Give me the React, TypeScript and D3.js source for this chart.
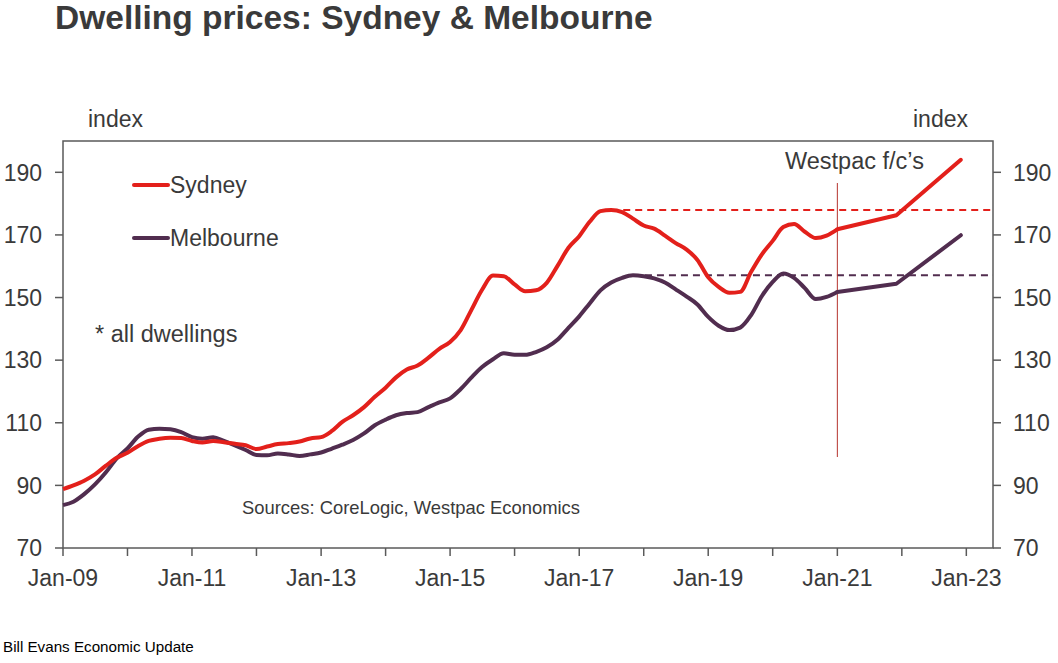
import React from "react";
import * as d3 from "d3";

// ---- data (index values) ----
const dates: string[] = [
  "2009-01","2009-03","2009-05","2009-07","2009-09","2009-11",
  "2010-01","2010-03","2010-05","2010-07","2010-09","2010-11",
  "2011-01","2011-03","2011-05","2011-07","2011-09","2011-11",
  "2012-01","2012-03","2012-05","2012-07","2012-09","2012-11",
  "2013-01","2013-03","2013-05","2013-07","2013-09","2013-11",
  "2014-01","2014-03","2014-05","2014-07","2014-09","2014-11",
  "2015-01","2015-03","2015-05","2015-07","2015-09","2015-11",
  "2016-01","2016-03","2016-05","2016-07","2016-09","2016-11",
  "2017-01","2017-03","2017-05","2017-07","2017-09","2017-11",
  "2018-01","2018-03","2018-05","2018-07","2018-09","2018-11",
  "2019-01","2019-03","2019-05","2019-07","2019-09","2019-11",
  "2020-01","2020-03","2020-05","2020-07","2020-09","2020-11",
  "2021-01",
];

const sydney: number[] = [
  88.8, 90.0, 91.5, 93.5, 96.3, 98.8,
  100.4, 102.5, 104.2, 104.9, 105.2, 105.1,
  104.2, 103.7, 104.2, 103.8, 103.3, 102.8,
  101.6, 102.4, 103.2, 103.5, 104.0, 105.0,
  105.4, 107.3, 110.3, 112.4, 115.0, 118.3,
  121.2, 124.5, 127.0, 128.3, 130.8, 133.6,
  135.8, 139.5, 146.0, 152.5, 157.0, 156.8,
  154.2, 152.0, 152.3, 154.7, 160.2, 165.9,
  169.6, 174.2, 177.6, 178.0, 177.3, 175.2,
  173.0, 172.0, 169.8, 167.4, 165.3, 162.0,
  156.5, 153.4, 151.5, 151.8, 158.2, 163.8,
  168.1, 172.5, 173.5, 171.0, 169.0, 169.8,
  171.8,
];

const melbourne: number[] = [
  83.7, 84.8, 87.2, 90.3, 94.2, 98.6,
  101.8, 105.5, 107.8, 108.1, 107.9, 107.0,
  105.4, 104.9, 105.4, 104.2, 102.8, 101.3,
  99.7, 99.6, 100.2, 99.9, 99.4, 99.9,
  100.5, 101.7, 103.0, 104.5, 106.6, 109.2,
  111.0, 112.4, 113.1, 113.4, 115.0, 116.5,
  117.8, 120.7, 124.4, 127.8, 130.3, 132.2,
  131.7, 131.7, 132.6, 134.1, 136.6, 140.3,
  144.0, 148.1, 152.3, 154.8, 156.3, 157.1,
  156.8, 156.1, 154.8, 152.6, 150.3, 147.8,
  143.8, 141.0, 139.6, 140.4, 144.4, 150.5,
  155.0, 157.7, 156.3, 153.0, 149.5, 150.2,
  151.8,
];

// Westpac forecasts
const forecastDates: string[] = ["2021-01", "2021-12", "2022-12"];
const sydneyForecast: number[] = [171.8, 176.3, 194.0];
const melbourneForecast: number[] = [151.8, 154.4, 169.9];

// previous peaks (dashed reference lines)
const peakDates: string[] = ["2017-07", "2017-11"];
const peakValues: number[] = [178.0, 157.1];

const yTicks: number[] = [70, 90, 110, 130, 150, 170, 190];
const xLabelYears: number[] = [2009, 2011, 2013, 2015, 2017, 2019, 2021, 2023];
const forecastStart = "2021-01";

const W = 1058;
const H = 663;
const RED = "#e3201b";
const PURPLE = "#512d4f";
const TXT = "#3a3a3a";
const AXIS = "#5a5a5a";
const FONT = "Liberation Sans, Arial, sans-serif";

const parse = d3.timeParse("%Y-%m");

export default function App() {
  const left = 63, right = 993, top = 141, bottom = 548;
  const x = d3.scaleTime().domain([new Date(2009, 0, 1), new Date(2023, 5, 1)]).range([left, right]);
  const y = d3.scaleLinear().domain([70, 200]).range([bottom, top]);

  const line = d3.line<[Date, number]>().x(d => x(d[0])).y(d => y(d[1])).curve(d3.curveMonotoneX);
  const lineLin = d3.line<[Date, number]>().x(d => x(d[0])).y(d => y(d[1]));

  const sydPts: [Date, number][] = dates.map((d, i) => [parse(d)!, sydney[i]]);
  const melPts: [Date, number][] = dates.map((d, i) => [parse(d)!, melbourne[i]]);
  const sydF: [Date, number][] = forecastDates.map((d, i) => [parse(d)!, sydneyForecast[i]]);
  const melF: [Date, number][] = forecastDates.map((d, i) => [parse(d)!, melbourneForecast[i]]);

  const yearTicks = d3.timeYear.range(new Date(2009, 0, 1), new Date(2023, 1, 1));
  const fx = x(parse(forecastStart)!);

  return (
    <svg width={W} height={H} style={{ position: "absolute", left: 0, top: 0, background: "#fff" }} fontFamily={FONT}>
      {/* Title */}
      <text x={55} y={29} fontSize={33.5} fontWeight="bold" fill={TXT}>Dwelling prices: Sydney &amp; Melbourne</text>

      {/* axis titles */}
      <text x={88} y={127} fontSize={23} fill={TXT}>index</text>
      <text x={913} y={127} fontSize={23} fill={TXT}>index</text>

      {/* frame */}
      <rect x={left} y={top} width={right - left} height={bottom - top} fill="none" stroke={AXIS} strokeWidth={1.5} />

      {/* y ticks and labels */}
      {yTicks.map(t => (
        <g key={t}>
          <line x1={left - 8} x2={left} y1={y(t)} y2={y(t)} stroke={AXIS} strokeWidth={1.5} />
          <line x1={right} x2={right + 8} y1={y(t)} y2={y(t)} stroke={AXIS} strokeWidth={1.5} />
          <text x={42} y={y(t)} dy="0.36em" fontSize={23} textAnchor="end" fill={TXT}>{t}</text>
          <text x={1013} y={y(t)} dy="0.36em" fontSize={23} textAnchor="start" fill={TXT}>{t}</text>
        </g>
      ))}

      {/* x ticks */}
      {yearTicks.map(d => (
        <line key={d.getTime()} x1={x(d)} x2={x(d)} y1={bottom} y2={bottom + 8} stroke={AXIS} strokeWidth={1.5} />
      ))}
      {xLabelYears.map(yr => (
        <text key={yr} x={x(new Date(yr, 0, 1))} y={586} fontSize={23} textAnchor="middle" fill={TXT}>
          {"Jan-" + String(yr).slice(2)}
        </text>
      ))}

      {/* dashed previous-peak lines */}
      <line x1={x(parse(peakDates[0])!)} x2={right} y1={y(peakValues[0])} y2={y(peakValues[0])}
        stroke={RED} strokeWidth={2} strokeDasharray="7 5" />
      <line x1={x(parse(peakDates[1])!)} x2={right} y1={y(peakValues[1])} y2={y(peakValues[1])}
        stroke={PURPLE} strokeWidth={2} strokeDasharray="7 5" />

      {/* forecast marker */}
      <line x1={fx} x2={fx} y1={183} y2={457} stroke="#b5332e" strokeWidth={1} />
      <text x={785} y={169} fontSize={23.5} fill={TXT}>Westpac f/c’s</text>

      {/* series */}
      <path d={line(melPts)!} fill="none" stroke={PURPLE} strokeWidth={4} strokeLinejoin="round" />
      <path d={lineLin(melF)!} fill="none" stroke={PURPLE} strokeWidth={4} strokeLinejoin="round" strokeLinecap="round" />
      <path d={line(sydPts)!} fill="none" stroke={RED} strokeWidth={4} strokeLinejoin="round" />
      <path d={lineLin(sydF)!} fill="none" stroke={RED} strokeWidth={4} strokeLinejoin="round" strokeLinecap="round" />

      {/* legend */}
      <line x1={134} x2={168} y1={185} y2={185} stroke={RED} strokeWidth={4} strokeLinecap="round" />
      <text x={170} y={193} fontSize={23} fill={TXT}>Sydney</text>
      <line x1={134} x2={168} y1={238} y2={238} stroke={PURPLE} strokeWidth={4} strokeLinecap="round" />
      <text x={170} y={246} fontSize={23} fill={TXT}>Melbourne</text>

      {/* notes */}
      <text x={95} y={342} fontSize={23.5} fill={TXT}>* all dwellings</text>
      <text x={242} y={514} fontSize={18.4} fill={TXT}>Sources: CoreLogic, Westpac Economics</text>
      <text x={3} y={652} fontSize={15.2} fill="#000" fontFamily="Liberation Sans Narrow, Arial Narrow, sans-serif" style={{ fontStretch: "condensed" }}>Bill Evans Economic Update</text>
    </svg>
  );
}
